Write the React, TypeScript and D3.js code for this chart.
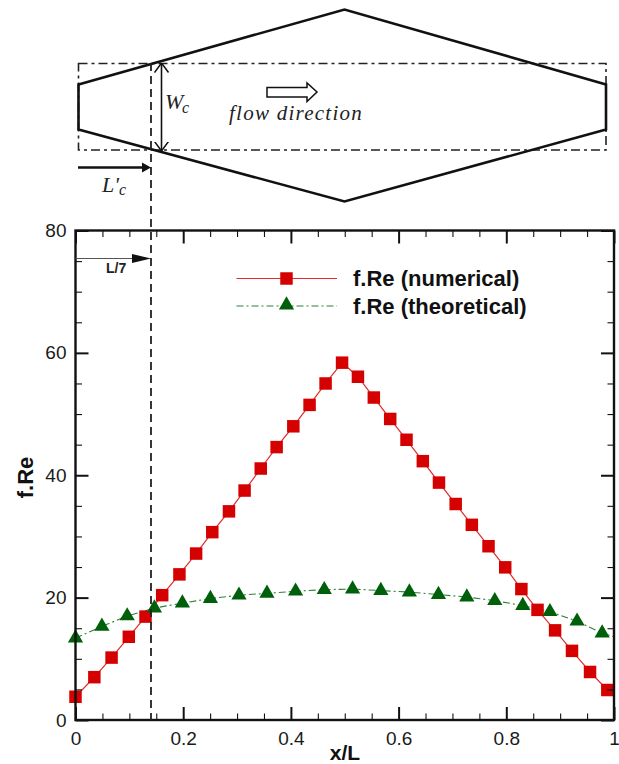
import React, { useEffect, useRef } from 'react'
import * as d3 from 'd3'

const width = 619
const height = 764
const margin = { top: 230.5, left: 75.5, bottom: 44, right: 5 }

// numerical series
const numX = [0, 0.035, 0.067, 0.099, 0.13, 0.161, 0.193, 0.224, 0.254, 0.285, 0.314, 0.344, 0.3735, 0.4045, 0.4347, 0.4644, 0.495, 0.5245, 0.554, 0.5844, 0.6147, 0.645, 0.675, 0.706, 0.736, 0.767, 0.798, 0.828, 0.858, 0.8906, 0.922, 0.9555, 0.9876]
const numY = [3.8, 7, 10.2, 13.6, 16.9, 20.4, 23.8, 27.2, 30.7, 34.1, 37.5, 41.1, 44.6, 48, 51.5, 55, 58.4, 56.1, 52.7, 49.2, 45.8, 42.3, 38.8, 35.3, 31.9, 28.4, 24.95, 21.4, 18, 14.65, 11.3, 7.85, 4.9]

// theoretical series, last point has no marker in the picture
const theoX = [0, 0.049, 0.096, 0.1466, 0.1985, 0.2505, 0.3036, 0.3556, 0.4087, 0.462, 0.5145, 0.567, 0.62, 0.674, 0.7267, 0.7786, 0.8306, 0.881, 0.9314, 0.978, 1]
const theoY = [13.4, 15.3, 17, 18.3, 19.1, 19.85, 20.4, 20.7, 21.05, 21.3, 21.4, 21.15, 20.9, 20.5, 20.1, 19.5, 18.7, 17.7, 16.15, 14.2, 13.6]

const xMajor = [0, 0.2, 0.4, 0.6, 0.8, 1]
const xMinor = d3.range(0, 21).map(d => d * 0.05).filter(d => Math.round(d * 100) % 20 !== 0)
const yMajor = [0, 20, 40, 60, 80]
const yMinor = d3.range(0, 17).map(d => d * 5).filter(d => d % 20 !== 0)

const legendNames = ['f.Re (numerical)', 'f.Re (theoretical)']

// channel sketch above the plot, in page pixels
const hullX = [78.5, 344.5, 606, 606, 344.5, 78.5]
const hullY = [84.5, 9.5, 84.5, 129.5, 201.5, 129.5]

const red = '#d50000'
const green = '#005f0a'

const App = () => {
  const svgR = useRef<SVGSVGElement>(null)

  useEffect(() => {
    const svg = d3.select(svgR.current)
    svg.selectAll('*').remove()

    const x = d3.scaleLinear().domain([0, 1]).range([margin.left, width - margin.right])
    const y = d3.scaleLinear().domain([0, 80]).range([height - margin.bottom, margin.top])
    const fmt = (d: any) => String(d)

    const defs = svg.append('defs')
    defs.append('marker').attr('id', 'open').attr('viewBox', '0 0 10 16').attr('refX', 9.5).attr('refY', 8)
      .attr('markerWidth', 10).attr('markerHeight', 16).attr('markerUnits', 'userSpaceOnUse').attr('orient', 'auto-start-reverse')
      .append('path').attr('d', 'M0,1 L9.5,8 L0,15').attr('fill', 'none').attr('stroke', '#111').attr('stroke-width', 1.5)

    // sketch
    const sketch = svg.append('g')
    sketch.append('rect').attr('x', 78.5).attr('y', 63.5).attr('width', 527.5).attr('height', 86.5)
      .attr('fill', 'none').attr('stroke', '#222').attr('stroke-width', 1.6).attr('stroke-dasharray', '9 4 3 4')
    sketch.append('path')
      .attr('d', d3.line().x(d => d[0]).y(d => d[1])(hullX.map((d, i) => [d, hullY[i]] as [number, number])) + 'Z')
      .attr('fill', 'none').attr('stroke', '#111').attr('stroke-width', 2.6)
    sketch.append('line').attr('x1', 161.5).attr('x2', 161.5).attr('y1', 63).attr('y2', 151)
      .attr('stroke', '#111').attr('stroke-width', 1.6).attr('marker-start', 'url(#open)').attr('marker-end', 'url(#open)')
    sketch.append('text').attr('x', 165).attr('y', 109).attr('font-family', 'Liberation Serif').attr('font-style', 'italic')
      .attr('font-size', 22).attr('fill', '#222').text('W')
    sketch.append('text').attr('x', 182).attr('y', 113).attr('font-family', 'Liberation Serif').attr('font-style', 'italic')
      .attr('font-size', 16).attr('fill', '#222').text('c')
    sketch.append('path').attr('d', 'M267,87.5 H307 V83 L317,92 L307,101.5 V97 H267 Z')
      .attr('fill', '#fff').attr('stroke', '#111').attr('stroke-width', 1.5)
    sketch.append('text').attr('x', 229).attr('y', 120).attr('font-family', 'Liberation Serif').attr('font-style', 'italic')
      .attr('font-size', 21).attr('letter-spacing', 1.25).attr('fill', '#222').text('flow direction')
    sketch.append('line').attr('x1', 78).attr('x2', 143).attr('y1', 167.5).attr('y2', 167.5).attr('stroke', '#111').attr('stroke-width', 2.6)
    sketch.append('path').attr('d', 'M142,162.5 L151,167.5 L142,172.5 Z').attr('fill', '#111')
    sketch.append('text').attr('x', 102).attr('y', 192).attr('font-family', 'Liberation Serif').attr('font-style', 'italic')
      .attr('font-size', 22).attr('fill', '#222').text("L'")
    sketch.append('text').attr('x', 119).attr('y', 195).attr('font-family', 'Liberation Serif').attr('font-style', 'italic')
      .attr('font-size', 16).attr('fill', '#222').text('c')

    // series
    const line = d3.line<number>().x((d, i) => x(d)).curve(d3.curveLinear)
    svg.append('path').attr('d', line.y((d, i) => y(theoY[i]))(theoX))
      .attr('fill', 'none').attr('stroke', '#2f7f3a').attr('stroke-width', 1.1).attr('stroke-dasharray', '7 3 2 3')
    svg.append('path').attr('d', line.y((d, i) => y(numY[i]))(numX))
      .attr('fill', 'none').attr('stroke', '#e22a2a').attr('stroke-width', 1.2)

    const tri = d3.symbol().type(d3.symbolTriangle).size(100)
    const square = d3.symbol().type(d3.symbolSquare).size(156)

    svg.append('g').selectAll('path').data(numX).join('path')
      .attr('d', square())
      .attr('transform', (d, i) => `translate(${x(d)},${y(numY[i])})`)
      .attr('fill', red)
    svg.append('g').selectAll('path').data(theoX.slice(0, -1)).join('path')
      .attr('d', tri())
      .attr('transform', (d, i) => `translate(${x(d)},${y(theoY[i])})`)
      .attr('fill', green)

    // frame and ticks
    const bottomY = y(0)
    const topY = y(80)
    const leftX = x(0)
    const rightX = x(1)
    const style = (g: any, w: number) => {
      g.select('.domain').remove()
      g.selectAll('line').attr('stroke', '#111').attr('stroke-width', w)
    }
    const tickText = (g: any) => {
      g.selectAll('text').attr('font-family', 'Liberation Sans').attr('font-size', 19).attr('fill', '#1a1a1a')
    }
    const gx = svg.append('g').attr('transform', `translate(0,${bottomY})`)
    gx.call(d3.axisBottom(x).tickValues(xMajor).tickSizeInner(-13).tickPadding(12).tickFormat(fmt))
    style(gx, 2); tickText(gx)
    const gxm = svg.append('g').attr('transform', `translate(0,${bottomY})`)
    gxm.call(d3.axisBottom(x).tickValues(xMinor).tickSizeInner(-6.5).tickFormat(() => ''))
    style(gxm, 1.1)
    const gxt = svg.append('g').attr('transform', `translate(0,${topY})`)
    gxt.call(d3.axisTop(x).tickValues(xMajor).tickSizeInner(-13).tickFormat(() => ''))
    style(gxt, 2)
    const gxtm = svg.append('g').attr('transform', `translate(0,${topY})`)
    gxtm.call(d3.axisTop(x).tickValues(xMinor).tickSizeInner(-6.5).tickFormat(() => ''))
    style(gxtm, 1.1)

    const gy = svg.append('g').attr('transform', `translate(${leftX},0)`)
    gy.call(d3.axisLeft(y).tickValues(yMajor).tickSizeInner(-13).tickPadding(9).tickFormat(fmt))
    style(gy, 2); tickText(gy)
    const gym = svg.append('g').attr('transform', `translate(${leftX},0)`)
    gym.call(d3.axisLeft(y).tickValues(yMinor).tickSizeInner(-6.5).tickFormat(() => ''))
    style(gym, 1.1)
    const gyr = svg.append('g').attr('transform', `translate(${rightX},0)`)
    gyr.call(d3.axisRight(y).tickValues(yMajor).tickSizeInner(-13).tickFormat(() => ''))
    style(gyr, 2)
    const gyrm = svg.append('g').attr('transform', `translate(${rightX},0)`)
    gyrm.call(d3.axisRight(y).tickValues(yMinor).tickSizeInner(-6.5).tickFormat(() => ''))
    style(gyrm, 1.1)

    svg.append('rect').attr('x', leftX).attr('y', topY).attr('width', rightX - leftX).attr('height', bottomY - topY)
      .attr('fill', 'none').attr('stroke', '#111').attr('stroke-width', 2.4)

    // L/7 marker and dashed guide
    svg.append('line').attr('x1', 151).attr('x2', 151).attr('y1', 63).attr('y2', bottomY)
      .attr('stroke', '#222').attr('stroke-width', 1.8).attr('stroke-dasharray', '8 5')
    svg.append('line').attr('x1', leftX).attr('x2', 135).attr('y1', 258.5).attr('y2', 258.5).attr('stroke', '#555').attr('stroke-width', 1.2)
    svg.append('path').attr('d', 'M132,254 L151,258.5 L132,263 Z').attr('fill', '#111')
    svg.append('text').attr('x', 106).attr('y', 273).attr('font-family', 'Liberation Sans').attr('font-weight', 'bold')
      .attr('font-size', 14).attr('fill', '#222').text('L/7')

    // axis titles
    svg.append('text').attr('x', 345).attr('y', 760).attr('text-anchor', 'middle').attr('font-family', 'Liberation Sans')
      .attr('font-weight', 'bold').attr('font-size', 21).attr('fill', '#111').text('x/L')
    svg.append('text').attr('transform', 'translate(33,477.5) rotate(-90)').attr('text-anchor', 'middle').attr('font-family', 'Liberation Sans')
      .attr('font-weight', 'bold').attr('font-size', 22).attr('fill', '#111').text('f.Re')

    // legend
    const legY = [278.5, 306]
    legendNames.forEach((name, i) => {
      const ly = legY[i]
      const l = svg.append('line').attr('x1', 236.5).attr('x2', 337).attr('y1', ly).attr('y2', ly)
        .attr('stroke', i === 0 ? '#e22a2a' : '#2f7f3a').attr('stroke-width', 1.1)
      if (i === 1) l.attr('stroke-dasharray', '7 3 2 3')
      svg.append('path').attr('d', i === 0 ? square() : tri())
        .attr('transform', `translate(286.5,${i === 0 ? ly : ly - 1})`).attr('fill', i === 0 ? red : green)
      svg.append('text').attr('x', 353).attr('y', ly + 7.5).attr('font-family', 'Liberation Sans').attr('font-weight', 'bold')
        .attr('font-size', 22).attr('fill', '#111').text(name)
    })
  }, [])

  return (
    <svg ref={svgR} width={width} height={height}
      style={{ position: 'absolute', left: 0, top: 0, display: 'block', background: '#fff' }} />
  )
}

export default App
